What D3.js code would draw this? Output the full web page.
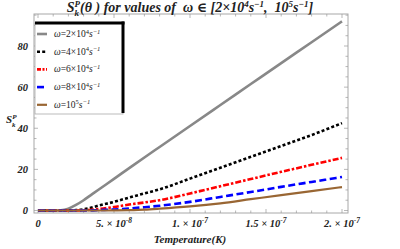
<!DOCTYPE html>
<html>
<head>
<meta charset="utf-8">
<script src="https://cdn.jsdelivr.net/npm/d3@7"></script>
<style>
  body { margin: 0; background: #fff; }
  text { font-family: "Liberation Serif", "DejaVu Serif", serif; }
  .tick-label { font-weight: bold; font-style: italic; font-size: 10.5px; fill: #222; }
</style>
</head>
<body>
<div id="chart"></div>
<script>
// Temperature samples (K)
const temps = [0, 1e-8, 1.5e-8, 2e-8, 2.5e-8, 3e-8, 3.5e-8, 4e-8, 5e-8, 6e-8, 7e-8, 8e-8, 1e-7, 1.2e-7, 1.4e-7, 1.6e-7, 1.8e-7, 2e-7];

// S_k^P values for each omega
const omega2e4 = [0, 0, 0.1, 0.9, 2.7, 5.0, 7.6, 10.2, 15.4, 20.6, 25.8, 30.9, 41.1, 51.3, 61.5, 71.7, 81.8, 92.0];
const omega4e4 = [0, 0, 0, 0.05, 0.2, 0.6, 1.4, 2.4, 4.2, 6.3, 8.3, 10.3, 15.5, 20.8, 26.1, 31.4, 36.7, 42.5];
const omega6e4 = [0, 0, 0, 0, 0, 0.1, 0.35, 0.7, 1.7, 2.9, 3.9, 5.0, 8.3, 11.8, 15.3, 18.8, 22.2, 25.6];
const omega8e4 = [0, 0, 0, 0, 0, 0, 0.05, 0.2, 0.5, 1.0, 1.6, 2.3, 4.2, 6.6, 9.0, 11.5, 13.9, 16.3];
const omega1e5 = [0, 0, 0, 0, 0, 0, 0, 0, 0.05, 0.2, 0.45, 0.9, 2.0, 3.5, 5.5, 7.5, 9.4, 11.4];

const xTicks = [0, 5e-8, 1e-7, 1.5e-7, 2e-7];
const xTickMant = ["0", "5.", "1.", "1.5", "2."];
const xTickExp = ["", "-8", "-7", "-7", "-7"];
const yTicks = [0, 20, 40, 60, 80];

const series = [
  { name: "2×10", exp: "4", values: omega2e4, color: "#888888", width: 2.6, dash: null, legendDash: null },
  { name: "4×10", exp: "4", values: omega4e4, color: "#000000", width: 2.6, dash: "3,2.2", legendDash: "3,2.2" },
  { name: "6×10", exp: "4", values: omega6e4, color: "#ff0000", width: 2.6, dash: "6,2,2.5,2", legendDash: "4,1.5,2,1.5" },
  { name: "8×10", exp: "4", values: omega8e4, color: "#0000ff", width: 2.6, dash: "7,3.5", legendDash: "7,3.5" },
  { name: "10", exp: "5", values: omega1e5, color: "#996633", width: 2.2, dash: null, legendDash: null }
];

const width = 400, height = 249;
const frame = { left: 34, right: 348, top: 14, bottom: 213 };

const svg = d3.select("#chart").append("svg")
  .attr("width", width)
  .attr("height", height);

const x = d3.scaleLinear().domain([0, 2e-7]).range([38, 342]);
const y = d3.scaleLinear().domain([0, 80]).range([210.5, 46]);

// frame
svg.append("rect")
  .attr("x", frame.left).attr("y", frame.top)
  .attr("width", frame.right - frame.left)
  .attr("height", frame.bottom - frame.top)
  .attr("fill", "none")
  .attr("stroke", "#a8a8a8")
  .attr("stroke-width", 1);

// x ticks on bottom and top (major every 5e-8, minor every 1e-8)
const xMinor = d3.range(-1, 22).map(i => i * 1e-8).filter(v => x(v) > frame.left && x(v) < frame.right);
xMinor.forEach(v => {
  const major = Math.abs(Math.round(v / 5e-8) * 5e-8 - v) < 1e-12;
  const len = major ? 4 : 2.5;
  svg.append("line")
    .attr("x1", x(v)).attr("x2", x(v))
    .attr("y1", frame.bottom).attr("y2", frame.bottom - len)
    .attr("stroke", "#999").attr("stroke-width", 0.7);
  svg.append("line")
    .attr("x1", x(v)).attr("x2", x(v))
    .attr("y1", frame.top).attr("y2", frame.top + len)
    .attr("stroke", "#999").attr("stroke-width", 0.7);
});

// y ticks on left and right (major every 20, minor every 5)
const yMinor = d3.range(0, 20).map(i => i * 5).filter(v => y(v) > frame.top && y(v) < frame.bottom);
yMinor.forEach(v => {
  const major = v % 20 === 0;
  const len = major ? 4 : 2.5;
  svg.append("line")
    .attr("x1", frame.left).attr("x2", frame.left + len)
    .attr("y1", y(v)).attr("y2", y(v))
    .attr("stroke", "#999").attr("stroke-width", 0.7);
  svg.append("line")
    .attr("x1", frame.right).attr("x2", frame.right - len)
    .attr("y1", y(v)).attr("y2", y(v))
    .attr("stroke", "#999").attr("stroke-width", 0.7);
});

// x tick labels
xTicks.forEach((v, i) => {
  const t = svg.append("text")
    .attr("class", "tick-label")
    .attr("x", x(v))
    .attr("y", 227)
    .attr("text-anchor", "middle");
  t.append("tspan").text(xTickMant[i]);
  if (xTickExp[i]) {
    t.append("tspan").text(" × 10");
    t.append("tspan").attr("dy", -4.5).style("font-size", "7.5px").text(xTickExp[i]);
  }
});

// y tick labels
yTicks.forEach(v => {
  svg.append("text")
    .attr("class", "tick-label")
    .attr("x", 28)
    .attr("y", y(v) + 3.5)
    .attr("text-anchor", "end")
    .text(v);
});

// curves
const line = d3.line()
  .x((d, i) => x(temps[i]))
  .y(d => y(d))
  .curve(d3.curveMonotoneX);

series.forEach(s => {
  svg.append("path")
    .datum(s.values)
    .attr("fill", "none")
    .attr("stroke", s.color)
    .attr("stroke-width", s.width)
    .attr("stroke-dasharray", s.dash)
    .attr("d", line);
});

// legend box
const lg = svg.append("g");
lg.append("rect")
  .attr("x", 35).attr("y", 23)
  .attr("width", 88).attr("height", 91)
  .attr("fill", "#fff")
  .attr("stroke", "#aaa")
  .attr("stroke-width", 0.8);
lg.append("line")
  .attr("x1", 35).attr("x2", 124.5)
  .attr("y1", 23).attr("y2", 23)
  .attr("stroke", "#000").attr("stroke-width", 3);
lg.append("line")
  .attr("x1", 123).attr("x2", 123)
  .attr("y1", 21.5).attr("y2", 113)
  .attr("stroke", "#000").attr("stroke-width", 3);

series.forEach((s, i) => {
  const ly = 34 + i * 17.7;
  lg.append("line")
    .attr("x1", 37).attr("x2", 47)
    .attr("y1", ly).attr("y2", ly)
    .attr("stroke", s.color)
    .attr("stroke-width", s.width)
    .attr("stroke-dasharray", s.legendDash);
  const t = lg.append("text")
    .attr("x", 54)
    .attr("y", ly + 3)
    .style("font-size", "9.5px")
    .style("fill", "#222");
  t.append("tspan").style("font-style", "italic").text("ω");
  t.append("tspan").text("=" + s.name);
  t.append("tspan").attr("dy", -3.5).style("font-size", "6.5px").text(s.exp);
  t.append("tspan").attr("dy", 3.5).style("font-style", "italic").text("s");
  t.append("tspan").attr("dy", -3.5).style("font-size", "6.5px").style("font-style", "italic").text("−1");
});

// title
const title = svg.append("text")
  .attr("x", 190)
  .attr("y", 12)
  .attr("text-anchor", "middle")
  .style("font-size", "14px")
  .style("font-weight", "bold")
  .style("font-style", "italic")
  .style("fill", "#222")
  .style("white-space", "pre");
title.append("tspan").text("S");
title.append("tspan").attr("dy", -5).style("font-size", "9px").text("P");
title.append("tspan").attr("dx", -5.5).attr("dy", 9).style("font-size", "9px").text("k");
title.append("tspan").attr("dx", 1).attr("dy", -4).text("(θ ) for values of  ω ∈ [2×10");
title.append("tspan").attr("dy", -5).style("font-size", "9px").text("4");
title.append("tspan").attr("dy", 5).text("s");
title.append("tspan").attr("dy", -5).style("font-size", "9px").text("−1");
title.append("tspan").attr("dy", 5).text(",  10");
title.append("tspan").attr("dy", -5).style("font-size", "9px").text("5");
title.append("tspan").attr("dy", 5).text("s");
title.append("tspan").attr("dy", -5).style("font-size", "9px").text("−1");
title.append("tspan").attr("dy", 5).text("]");

// y axis label
const yl = svg.append("text")
  .attr("x", 6)
  .attr("y", 123)
  .style("font-size", "11px")
  .style("font-weight", "bold")
  .style("font-style", "italic")
  .style("fill", "#222");
yl.append("tspan").text("S");
yl.append("tspan").attr("dy", -4.5).style("font-size", "7px").text("P");
yl.append("tspan").attr("dx", -4.5).attr("dy", 8).style("font-size", "7px").text("k");

// x axis label
svg.append("text")
  .attr("x", 190)
  .attr("y", 243)
  .attr("text-anchor", "middle")
  .style("font-size", "11px")
  .style("font-weight", "bold")
  .style("font-style", "italic")
  .style("fill", "#222")
  .text("Temperature(K)");
</script>
</body>
</html>
